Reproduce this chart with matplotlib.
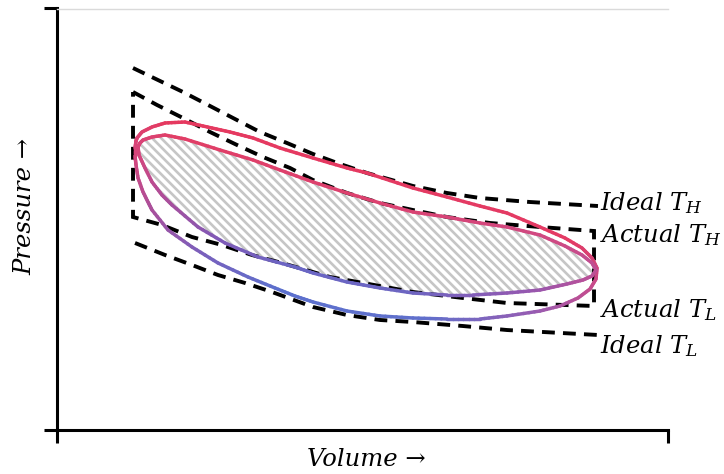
import numpy as np
import matplotlib
matplotlib.use('Agg')
import matplotlib.pyplot as plt
from matplotlib.collections import LineCollection
from matplotlib.colors import LinearSegmentedColormap

plt.rcParams['font.family'] = ['DejaVu Serif']
plt.rcParams['mathtext.fontset'] = 'dejavuserif'

# isotherms (volume, pressure)
ideal_th_v = [1.244, 1.686, 2.062, 2.504, 2.913, 3.322, 3.764, 4.190, 4.632, 5.074, 5.826, 6.383, 6.923, 7.741, 8.854]
ideal_th_p = [8.588, 8.280, 8.019, 7.687, 7.378, 7.070, 6.809, 6.548, 6.311, 6.097, 5.789, 5.623, 5.504, 5.409, 5.314]

ideal_tl_v = [1.277, 1.768, 2.209, 2.635, 3.077, 3.519, 4.190, 4.746, 5.286, 5.826, 6.645, 7.365, 8.854]
ideal_tl_p = [4.437, 4.152, 3.915, 3.677, 3.488, 3.274, 2.918, 2.728, 2.610, 2.562, 2.467, 2.372, 2.254]

actual_th_v = [1.244, 1.637, 2.062, 2.504, 2.946, 3.371, 3.814, 4.190, 4.746, 5.286, 5.826, 6.383, 7.087, 7.905, 8.789]
actual_th_p = [8.019, 7.711, 7.402, 7.070, 6.762, 6.477, 6.216, 5.931, 5.623, 5.386, 5.219, 5.053, 4.911, 4.816, 4.721]

actual_tl_v = [1.244, 1.718, 2.209, 2.700, 3.191, 3.682, 4.468, 5.008, 5.826, 6.645, 7.365, 8.789]
actual_tl_p = [5.053, 4.864, 4.579, 4.389, 4.152, 3.962, 3.630, 3.488, 3.274, 3.132, 3.013, 2.942]

# outer (real) loop
outer_top_v = [1.277, 1.293, 1.309, 1.391, 1.555, 1.768, 2.095, 2.390, 2.831, 3.208, 3.650, 4.190, 4.746,
               5.074, 5.826, 6.383, 6.923, 7.365, 7.905, 8.314, 8.592, 8.756, 8.838]
outer_top_p = [6.690, 6.856, 6.928, 7.070, 7.189, 7.284, 7.307, 7.212, 7.070, 6.928, 6.690, 6.453, 6.216,
               6.097, 5.741, 5.528, 5.314, 5.148, 4.816, 4.555, 4.318, 4.081, 3.843]
outer_bot_v = [1.277, 1.293, 1.326, 1.408, 1.489, 1.555, 1.817, 2.209, 2.635, 3.126, 3.568, 3.895, 4.190,
               4.746, 5.286, 5.826, 6.383, 6.923, 7.365, 7.905, 8.232, 8.527, 8.724, 8.822]
outer_bot_p = [6.501, 6.287, 5.979, 5.647, 5.409, 5.219, 4.745, 4.342, 3.962, 3.630, 3.369, 3.179, 3.037,
               2.823, 2.705, 2.657, 2.633, 2.633, 2.705, 2.823, 2.942, 3.132, 3.345, 3.582]

# inner loop (hatched work area)
inner_top_v = [1.326, 1.358, 1.408, 1.555, 1.768, 2.095, 2.668, 3.208, 3.650, 4.190, 4.746, 5.286, 5.826,
               6.383, 6.923, 7.365, 7.905, 8.314, 8.592, 8.756, 8.822]
inner_top_p = [6.714, 6.809, 6.880, 6.951, 6.999, 6.904, 6.643, 6.406, 6.168, 5.884, 5.623, 5.386, 5.172,
               5.053, 4.911, 4.816, 4.626, 4.365, 4.152, 3.962, 3.796]
inner_bot_v = [1.342, 1.440, 1.555, 1.718, 1.882, 2.308, 2.750, 3.290, 3.895, 4.190, 4.746, 5.286, 5.826,
               6.383, 6.808, 7.365, 7.905, 8.347, 8.609, 8.756]
inner_bot_p = [6.524, 6.216, 5.884, 5.575, 5.338, 4.816, 4.437, 4.104, 3.867, 3.725, 3.511, 3.369, 3.250,
               3.203, 3.203, 3.250, 3.321, 3.464, 3.559, 3.654]

labels = ['Ideal $T_H$', 'Actual $T_H$', 'Actual $T_L$', 'Ideal $T_L$']
label_p = [5.219, 4.460, 2.681, 1.827]

fig = plt.figure(figsize=(7.24, 4.74), dpi=100)
ax = fig.add_axes([57 / 724, 1 - 430 / 474, 611 / 724, 421.5 / 474])
ax.set_xlim(0, 10)
ax.set_ylim(0, 10)


def closed(top_v, top_p, bot_v, bot_p):
    v = np.r_[top_v, bot_v[::-1], top_v[:1]]
    p = np.r_[top_p, bot_p[::-1], top_p[:1]]
    return v, p


def gradient_loop(v, p, stops, lw=2.5):
    pts = np.column_stack([v, p])
    disp = ax.transData.transform(pts)
    d = np.hypot(*np.diff(disp, axis=0).T)
    s = np.r_[0, np.cumsum(d)] / d.sum()
    # split each segment so the colour runs smoothly
    segs, cs = [], []
    for i in range(len(pts) - 1):
        for k in range(6):
            a, b = k / 6, (k + 1) / 6
            segs.append([pts[i] + a * (pts[i + 1] - pts[i]), pts[i] + b * (pts[i + 1] - pts[i])])
            cs.append(s[i] + (a + b) / 2 * (s[i + 1] - s[i]))
    cmap = LinearSegmentedColormap.from_list('loop', stops)
    lc = LineCollection(segs, colors=cmap(np.array(cs)), linewidths=lw,
                        capstyle='round', joinstyle='round', zorder=3)
    ax.add_collection(lc)


# hatched area: 45 deg grey stripes clipped to the inner loop
iv, ip = closed(inner_top_v, inner_top_p, inner_bot_v, inner_bot_p)
area = ax.fill(iv, ip, facecolor='none', edgecolor='none', zorder=1)[0]
px_v = 611 / 10       # pixels per volume unit
px_p = 421.5 / 10     # pixels per pressure unit
step = 9.0 / px_v
drop = 10 * px_p / px_v
stripes = [[(c, 10), (c + drop, 0)] for c in np.arange(-drop, 10, step)]
hatch = LineCollection(stripes, colors='#c6c6c6', linewidths=1.9, zorder=1)
ax.add_collection(hatch)
hatch.set_clip_path(area)

dash = dict(color='black', lw=2.8, ls=(0, (3.3, 2.1)), dash_joinstyle='miter',
            dash_capstyle='butt', zorder=2)
ax.plot(ideal_th_v, ideal_th_p, **dash)
ax.plot(ideal_tl_v, ideal_tl_p, **dash)
av = np.r_[actual_th_v, actual_tl_v[::-1], actual_th_v[:1]]
ap = np.r_[actual_th_p, actual_tl_p[::-1], actual_th_p[:1]]
ax.plot(av, ap, **dash)

ov, op = closed(outer_top_v, outer_top_p, outer_bot_v, outer_bot_p)
gradient_loop(ov, op, [(0.0, '#d8457a'), (0.04, '#e5395f'), (0.44, '#e43a64'), (0.49, '#c94b8a'),
                       (0.55, '#9a5bb0'), (0.66, '#6070cc'), (0.8, '#5c70cd'), (0.88, '#7a60bc'),
                       (0.94, '#a8509d'), (1.0, '#d8457a')])
gradient_loop(iv, ip, [(0.0, '#d8457a'), (0.04, '#e13e66'), (0.25, '#dc4270'), (0.44, '#cf4a84'),
                       (0.5, '#b8519a'), (0.56, '#9558b0'), (0.68, '#6d66c2'), (0.8, '#6a66c4'),
                       (0.88, '#8059b6'), (0.95, '#b04d98'), (1.0, '#d8457a')])

for txt, y in zip(labels, label_p):
    ax.text(8.89, y, txt, fontsize=17.5, style='italic', va='baseline', ha='left', clip_on=False)

ax.set_xticks([0, 10])
ax.set_yticks([0, 10])
ax.tick_params(direction='out', length=9.5, width=2.2, labelbottom=False, labelleft=False)
for side in ['left', 'bottom']:
    ax.spines[side].set_linewidth(2.2)
ax.spines['right'].set_visible(False)
ax.spines['top'].set_color('#dadada')
ax.spines['top'].set_linewidth(1)

ax.set_xlabel('Volume →', fontsize=17.5, style='italic', va='center')
ax.xaxis.set_label_coords(0.506, -0.071)
ax.set_ylabel('Pressure →', fontsize=17.5, style='italic', va='center')
ax.yaxis.set_label_coords(-0.052, 0.531)

fig.savefig('out.png', dpi=100)
